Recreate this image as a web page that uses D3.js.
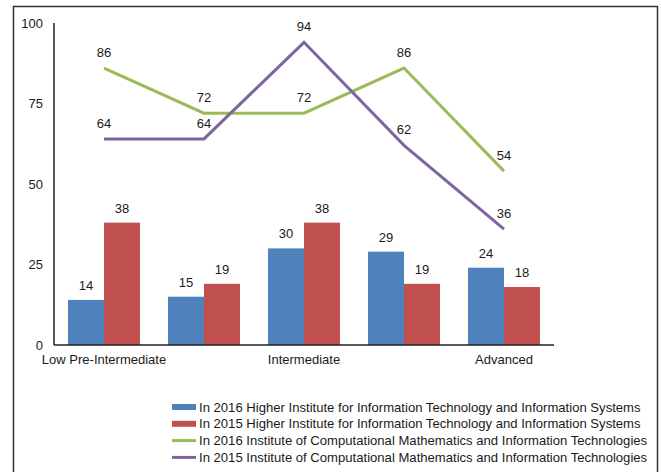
<!DOCTYPE html>
<html>
<head>
<meta charset="utf-8">
<script src="https://cdn.jsdelivr.net/npm/d3@7"></script>
<style>
  body { margin: 0; background: #fff; }
  text { font-family: "Liberation Sans", Arial, sans-serif; fill: #1a1a1a; }
</style>
</head>
<body>
<div id="chart"></div>
<script>
// categories (only every other one gets a visible axis label, like the original)
const categories = ["Low Pre-Intermediate", "Pre-Intermediate", "Intermediate", "Upper-Intermediate", "Advanced"];
const shownLabels = ["Low Pre-Intermediate", "Intermediate", "Advanced"];
const yTicks = [0, 25, 50, 75, 100];

// bar series
const hiit2016 = [14, 15, 30, 29, 24];
const hiit2015 = [38, 19, 38, 19, 18];
// line series
const icmit2016 = [86, 72, 72, 86, 54];
const icmit2015 = [64, 64, 94, 62, 36];

const seriesNames = [
  "In 2016 Higher Institute for Information Technology and Information Systems",
  "In 2015 Higher Institute for Information Technology and Information Systems",
  "In 2016 Institute of Computational Mathematics and Information Technologies",
  "In 2015 Institute of Computational Mathematics and Information Technologies",
];
const colors = ["#4f81bd", "#c0504d", "#9bbb59", "#8064a2"];

const W = 661, H = 472;
const svg = d3.select("#chart").append("svg").attr("width", W).attr("height", H);

// outer frame
svg.append("rect")
  .attr("x", 13.5).attr("y", 6.5)
  .attr("width", 644).attr("height", 480)
  .attr("fill", "none").attr("stroke", "#333").attr("stroke-width", 1.5);

const x = d3.scaleBand().domain(categories).range([54, 554]).paddingInner(0).paddingOuter(0);
const xs = d3.scaleBand().domain([0, 1]).range([0, x.bandwidth()]).paddingInner(0).paddingOuter(0.39);
const y = d3.scaleLinear().domain([0, 100]).range([345, 23]);

// y axis
svg.append("line").attr("x1", 54).attr("x2", 54).attr("y1", y(100)).attr("y2", y(0))
  .attr("stroke", "#222").attr("stroke-width", 1.5);
svg.append("g").selectAll("text").data(yTicks).join("text")
  .attr("x", 43).attr("y", d => y(d) + 4.5)
  .attr("text-anchor", "end").attr("font-size", 13)
  .text(d => d);

// bars
const barData = [hiit2016, hiit2015];
barData.forEach((vals, s) => {
  const g = svg.append("g");
  g.selectAll("rect").data(vals).join("rect")
    .attr("x", (d, i) => x(categories[i]) + xs(s))
    .attr("y", d => y(d))
    .attr("width", xs.bandwidth())
    .attr("height", d => y(0) - y(d))
    .attr("fill", colors[s]);
  g.selectAll("text").data(vals).join("text")
    .attr("x", (d, i) => x(categories[i]) + xs(s) + xs.bandwidth() / 2)
    .attr("y", d => y(d) - 10)
    .attr("text-anchor", "middle").attr("font-size", 13)
    .text(d => d);
});

// x axis
svg.append("line").attr("x1", 54).attr("x2", 554).attr("y1", y(0)).attr("y2", y(0))
  .attr("stroke", "#222").attr("stroke-width", 1.5);
svg.append("g").selectAll("text").data(shownLabels).join("text")
  .attr("x", d => x(d) + x.bandwidth() / 2)
  .attr("y", 364)
  .attr("text-anchor", "middle").attr("font-size", 13)
  .text(d => d);

// lines
const line = d3.line()
  .x((d, i) => x(categories[i]) + x.bandwidth() / 2)
  .y(d => y(d));
[icmit2016, icmit2015].forEach((vals, k) => {
  const c = colors[k + 2];
  svg.append("path").datum(vals)
    .attr("d", line)
    .attr("fill", "none").attr("stroke", c).attr("stroke-width", 3);
  svg.append("g").selectAll("text").data(vals).join("text")
    .attr("x", (d, i) => x(categories[i]) + x.bandwidth() / 2)
    .attr("y", d => y(d) - 11)
    .attr("text-anchor", "middle").attr("font-size", 13)
    .text(d => d);
});

// legend
const legend = svg.append("g");
seriesNames.forEach((name, i) => {
  const ly = 407 + i * 16.8;
  if (i < 2) {
    legend.append("rect").attr("x", 172).attr("y", ly - 3).attr("width", 24).attr("height", 6)
      .attr("fill", colors[i]);
  } else {
    legend.append("line").attr("x1", 172).attr("x2", 196).attr("y1", ly).attr("y2", ly)
      .attr("stroke", colors[i]).attr("stroke-width", 3);
  }
  legend.append("text").attr("x", 199).attr("y", ly + 4.5)
    .attr("font-size", 13.1).text(name);
});
</script>
</body>
</html>
